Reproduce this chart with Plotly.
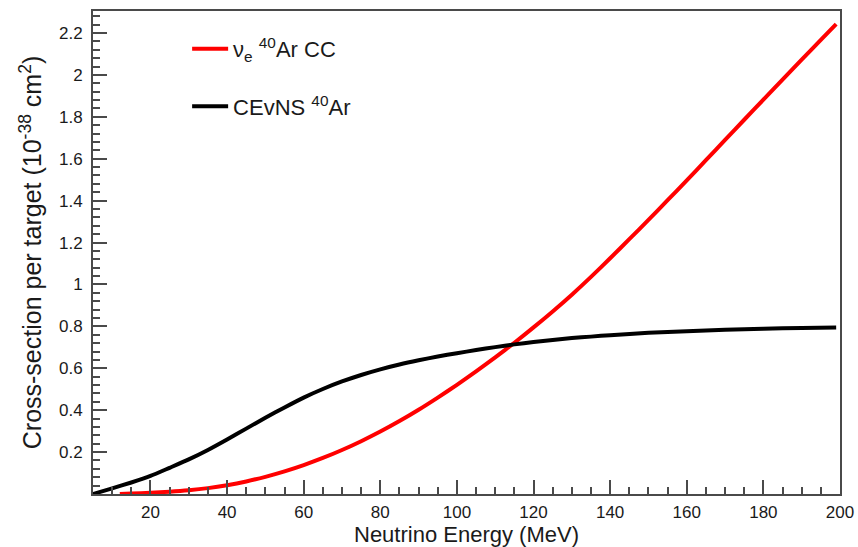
import plotly.graph_objects as go

# Neutrino energy grid (MeV) and cross-sections per target (1e-38 cm^2)
cc_energy = [12, 15, 20, 25, 30, 35, 40, 45, 50, 55, 60, 65, 70, 75, 80, 85, 90, 95,
             100, 105, 110, 115, 120, 125, 130, 135, 140, 145, 150, 155, 160, 165,
             170, 175, 180, 185, 190, 195, 199]
cc_xsec = [0.000, 0.002, 0.006, 0.011, 0.018, 0.028, 0.042, 0.060, 0.082, 0.108, 0.138,
           0.172, 0.210, 0.252, 0.298, 0.348, 0.402, 0.460, 0.521, 0.585, 0.652,
           0.722, 0.795, 0.871, 0.951, 1.036, 1.125, 1.216, 1.308, 1.402, 1.497,
           1.593, 1.690, 1.786, 1.882, 1.978, 2.073, 2.167, 2.242]

cevns_energy = [5, 10, 15, 20, 25, 30, 35, 40, 45, 50, 55, 60, 65, 70, 75, 80, 85, 90,
                95, 100, 105, 110, 115, 120, 125, 130, 135, 140, 150, 160, 170, 180,
                190, 199]
cevns_xsec = [0.000, 0.027, 0.055, 0.086, 0.125, 0.165, 0.210, 0.260, 0.312, 0.364,
              0.413, 0.460, 0.501, 0.537, 0.568, 0.595, 0.618, 0.638, 0.656, 0.672,
              0.687, 0.701, 0.714, 0.725, 0.735, 0.744, 0.751, 0.758, 0.769, 0.777,
              0.784, 0.789, 0.792, 0.794]

x_ticks = [20, 40, 60, 80, 100, 120, 140, 160, 180, 200]
y_ticks = [0.2, 0.4, 0.6, 0.8, 1.0, 1.2, 1.4, 1.6, 1.8, 2.0, 2.2]
y_tick_text = ["0.2", "0.4", "0.6", "0.8", "1", "1.2", "1.4", "1.6", "1.8", "2", "2.2"]

FONT = "Liberation Sans, Arial, Helvetica, sans-serif"
FRAME = "#4a4a4a"
TEXT = "#1a1a1a"

fig = go.Figure()
fig.add_trace(go.Scatter(
    x=cc_energy, y=cc_xsec, mode="lines",
    line=dict(color="#ff0000", width=4, shape="spline", smoothing=0.6),
    name="ν<sub>e</sub> <sup>40</sup>Ar CC", legendgroup="cc",
))
fig.add_trace(go.Scatter(
    x=cevns_energy, y=cevns_xsec, mode="lines",
    line=dict(color="#000000", width=4, shape="spline", smoothing=0.6),
    name="CEvNS <sup>40</sup>Ar", legendgroup="cevns",
))

axis_common = dict(
    showgrid=False, zeroline=False, showline=True, linecolor=FRAME, linewidth=2,
    mirror=True, ticks="inside", ticklen=14, tickwidth=2, tickcolor=FRAME,
    tickfont=dict(family=FONT, size=17, color=TEXT), automargin=False,
)

fig.update_xaxes(
    range=[5, 200], tickvals=x_ticks, ticklabelstandoff=2,
    minor=dict(dtick=5, tick0=0, ticks="inside", ticklen=7, tickwidth=2, tickcolor=FRAME),
    title=dict(text="Neutrino Energy (MeV)", font=dict(family=FONT, size=22, color=TEXT),
               standoff=6),
    **axis_common,
)
fig.update_yaxes(
    range=[0, 2.305], tickvals=y_ticks, ticktext=y_tick_text, ticklabelstandoff=5,
    minor=dict(dtick=0.04, tick0=0, ticks="inside", ticklen=7, tickwidth=2, tickcolor=FRAME),
    title=dict(text="Cross-section per target (10<sup>-38</sup> cm<sup>2</sup>)",
               font=dict(family=FONT, size=25, color=TEXT), standoff=10),
    **axis_common,
)

fig.update_layout(
    width=858, height=547,
    margin=dict(l=93, r=18, t=11, b=53),
    paper_bgcolor="white", plot_bgcolor="white",
    legend=dict(
        x=0.126, y=0.965, xanchor="left", yanchor="top",
        font=dict(family=FONT, size=22, color=TEXT),
        bgcolor="rgba(0,0,0,0)", traceorder="grouped", tracegroupgap=26,
        itemwidth=36,
    ),
)

fig.write_html("out.html")
